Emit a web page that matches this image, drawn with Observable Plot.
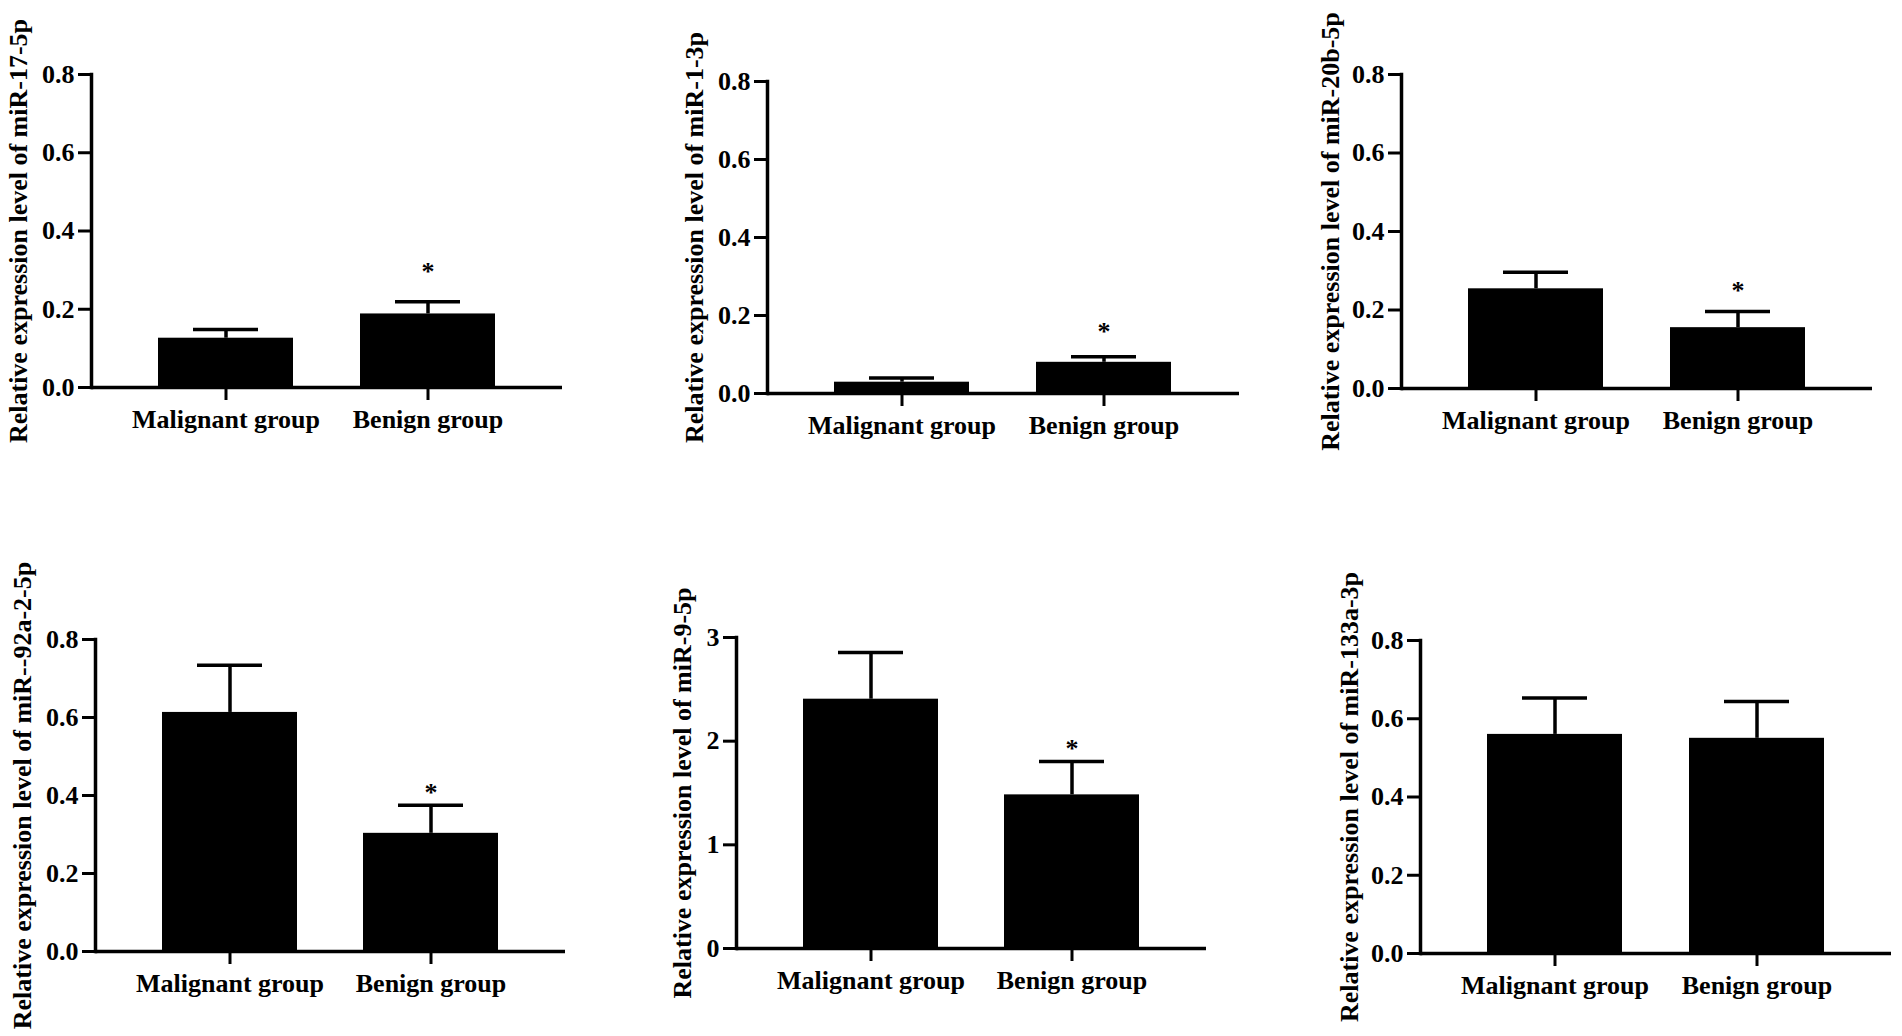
<!DOCTYPE html>
<html><head><meta charset="utf-8">
<script src="https://cdn.jsdelivr.net/npm/d3@7"></script>
<script src="https://cdn.jsdelivr.net/npm/@observablehq/plot@0.6"></script>
<style>
html,body{margin:0;padding:0;background:#fff;}
#root{position:relative;width:1902px;height:1036px;overflow:hidden;background:#fff;}
#root svg{position:absolute;}
</style></head><body><div id="root"></div>
<script>
// Categories
const groups = ["Malignant group", "Benign group"];

// miR-17-5p
const mir17_5pMean = [0.126, 0.188];
const mir17_5pSD = [0.022, 0.031];
const mir17_5pStar = [null, 0.307];
// miR-1-3p
const mir1_3pMean = [0.029, 0.080];
const mir1_3pSD = [0.011, 0.014];
const mir1_3pStar = [null, 0.170];
// miR-20b-5p
const mir20b_5pMean = [0.254, 0.155];
const mir20b_5pSD = [0.042, 0.041];
const mir20b_5pStar = [null, 0.260];
// miR--92a-2-5p
const mir92a_2_5pMean = [0.613, 0.303];
const mir92a_2_5pSD = [0.121, 0.072];
const mir92a_2_5pStar = [null, 0.417];
// miR-9-5p
const mir9_5pMean = [2.405, 1.482];
const mir9_5pSD = [0.450, 0.322];
const mir9_5pStar = [null, 1.97];
// miR-133a-3p
const mir133a_3pMean = [0.560, 0.550];
const mir133a_3pSD = [0.093, 0.094];
const mir133a_3pStar = [null, null];

// Tick values
const ticks08 = [0, 0.2, 0.4, 0.6, 0.8];
const ticks3 = [0, 1, 2, 3];

const titles = [
  "Relative expression level of miR-17-5p",
  "Relative expression level of miR-1-3p",
  "Relative expression level of miR-20b-5p",
  "Relative expression level of miR--92a-2-5p",
  "Relative expression level of miR-9-5p",
  "Relative expression level of miR-133a-3p"
];

const fmt1 = d => d.toFixed(1);
const fmt0 = d => String(d);

// layout: frame [left, right, top, bottom] in page px, title offset
const panels = [
  {title: titles[0], mean: mir17_5pMean, sd: mir17_5pSD, star: mir17_5pStar, yMax: 0.8, ticks: ticks08, fmt: fmt1, frame: [91, 562, 74, 387], tOff: 73},
  {title: titles[1], mean: mir1_3pMean, sd: mir1_3pSD, star: mir1_3pStar, yMax: 0.8, ticks: ticks08, fmt: fmt1, frame: [767, 1239, 81, 393], tOff: 73},
  {title: titles[2], mean: mir20b_5pMean, sd: mir20b_5pSD, star: mir20b_5pStar, yMax: 0.8, ticks: ticks08, fmt: fmt1, frame: [1401, 1872, 74, 388], tOff: 71},
  {title: titles[3], mean: mir92a_2_5pMean, sd: mir92a_2_5pSD, star: mir92a_2_5pStar, yMax: 0.8, ticks: ticks08, fmt: fmt1, frame: [95, 565, 639, 951], tOff: 73},
  {title: titles[4], mean: mir9_5pMean, sd: mir9_5pSD, star: mir9_5pStar, yMax: 3, ticks: ticks3, fmt: fmt0, frame: [736, 1206, 637, 948], tOff: 54},
  {title: titles[5], mean: mir133a_3pMean, sd: mir133a_3pSD, star: mir133a_3pStar, yMax: 0.8, ticks: ticks08, fmt: fmt1, frame: [1420, 1891, 640, 953], tOff: 71}
];

const root = document.getElementById("root");
const ML = 100, MR = 12, MT = 60, MB = 80;
const FONT = "'Liberation Serif', 'Times New Roman', Times, serif";

panels.forEach(p => {
  const [fl, fr, ft, fb] = p.frame;
  const rows = groups.map((g, i) => ({group: g, mean: p.mean[i], hi: p.mean[i] + p.sd[i], star: p.star[i]}));
  const chart = Plot.plot({
    width: fr - fl + ML + MR,
    height: fb - ft + MT + MB,
    marginLeft: ML, marginRight: MR, marginTop: MT, marginBottom: MB,
    style: {fontFamily: FONT, fontSize: "26px", fontWeight: "bold", color: "black", background: "transparent", overflow: "visible"},
    x: {domain: groups, paddingInner: 0.33, paddingOuter: 0.33, label: null},
    y: {domain: [0, p.yMax], label: null},
    marks: [
      Plot.ruleX(rows, {x: "group", y1: "mean", y2: "hi", stroke: "black", strokeWidth: 3.5}),
      Plot.tickY(rows, {x: "group", y: "hi", stroke: "black", strokeWidth: 3.5, insetLeft: 35, insetRight: 35}),
      Plot.barY(rows, {x: "group", y: "mean", fill: "black"}),
      Plot.text(rows.filter(d => d.star != null), {x: "group", y: "star", text: () => "*", fontSize: 26, fontWeight: "bold", dy: 4}),
      Plot.frame({anchor: "left", stroke: "black", strokeWidth: 3.5}),
      Plot.ruleY([0], {stroke: "black", strokeWidth: 3.5}),
      Plot.axisY({ticks: p.ticks, tickFormat: p.fmt, tickSize: 13, tickPadding: 4, strokeWidth: 3, label: null, fontSize: 26, fontWeight: "bold"}),
      Plot.axisX({tickSize: 13, tickPadding: 9, strokeWidth: 3, label: null, fontSize: 26, fontWeight: "bold"}),
      Plot.text([p.title], {frameAnchor: "left", rotate: -90, dx: -p.tOff, fontSize: 26, fontWeight: "bold", textAnchor: "middle", lineAnchor: "middle"})
    ]
  });
  chart.style.left = (fl - ML) + "px";
  chart.style.top = (ft - MT) + "px";
  root.appendChild(chart);
});
</script>
</body></html>
